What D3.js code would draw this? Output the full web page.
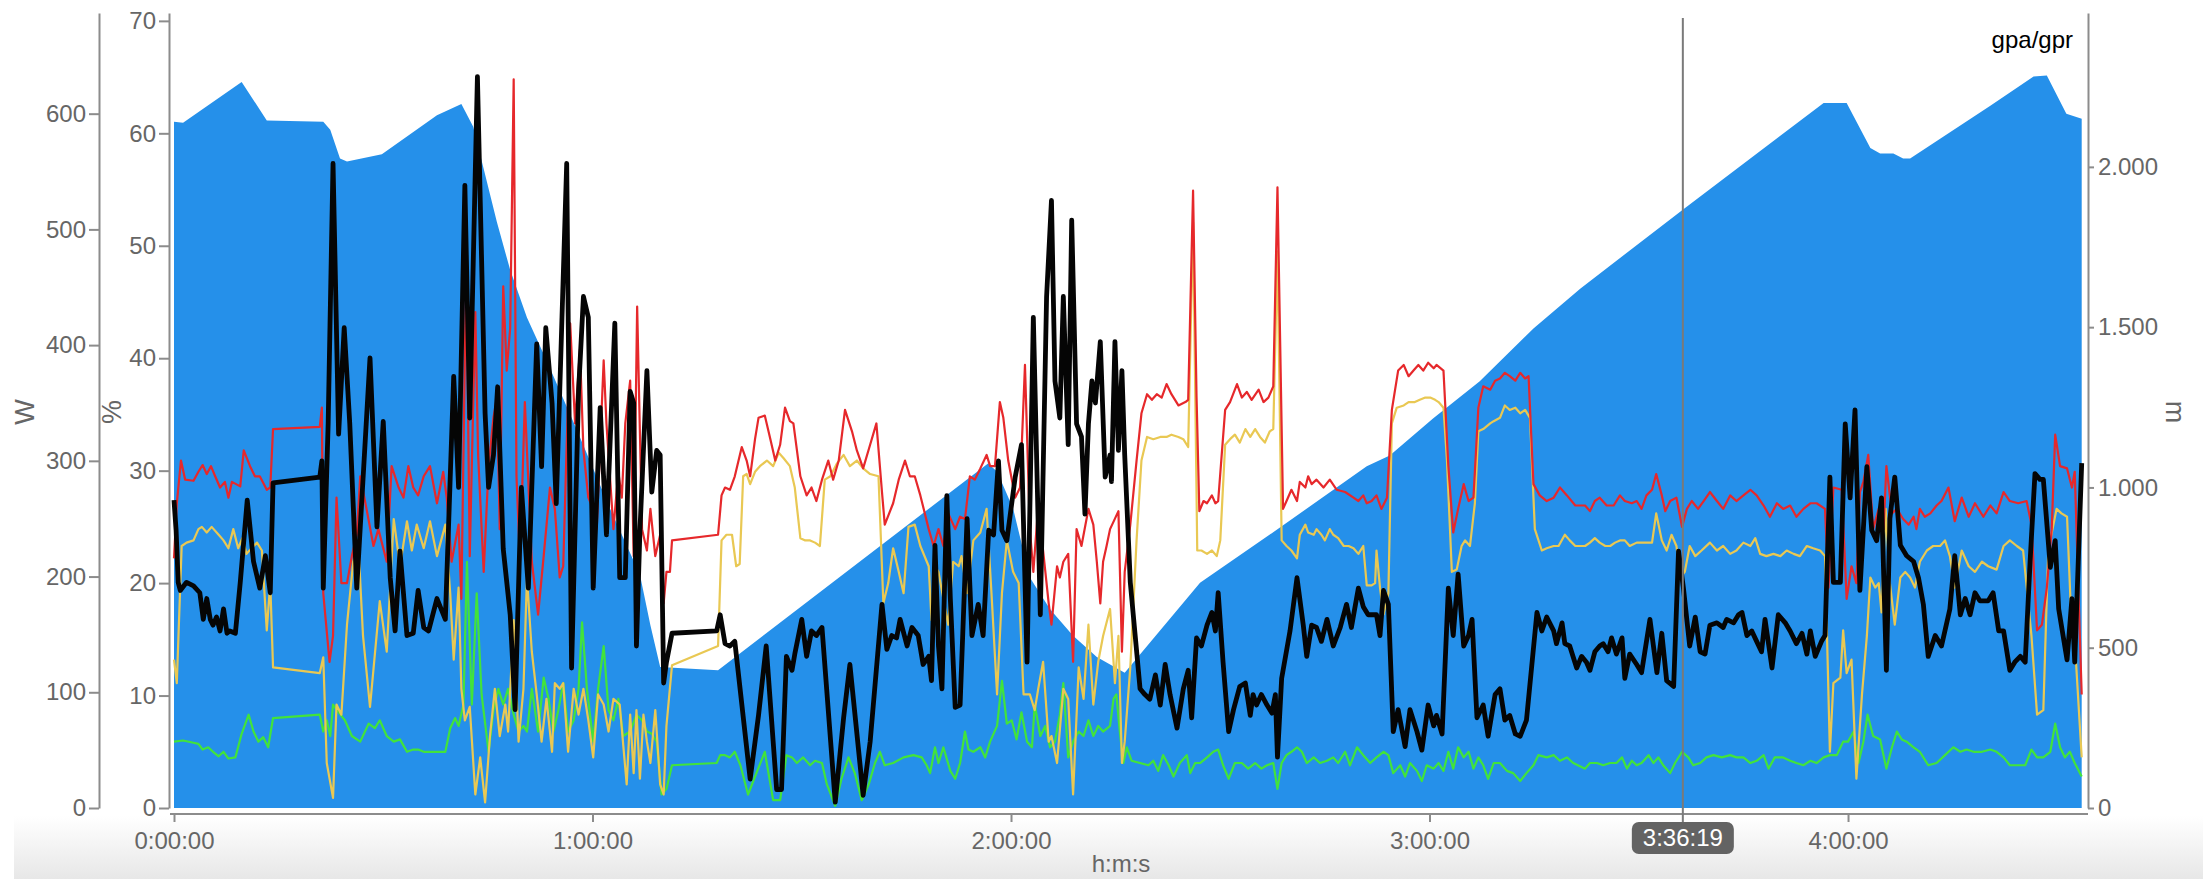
<!DOCTYPE html>
<html>
<head>
<meta charset="utf-8">
<script src="https://cdnjs.cloudflare.com/ajax/libs/d3/7.8.5/d3.min.js"></script>
<style>
  body { margin: 0; background: #fff; }
  svg { display: block; font-family: "Liberation Sans", Arial, Helvetica, sans-serif; }
</style>
</head>
<body>
<svg id="chart" width="2203" height="879"></svg>
<script>
(function() {
  'use strict';

  // ticks (time in minutes)
  var timeTicks = [0, 60, 120, 180, 240];
  var wTicks = [0, 100, 200, 300, 400, 500, 600];
  var pctTicks = [0, 10, 20, 30, 40, 50, 60, 70];
  var mTicks = [0, 500, 1000, 1500, 2000];
  var cursorSeconds = 12979;
  var cornerLabel = "gpa/gpr";
  var axisTitles = { w: "W", pct: "%", m: "m", time: "h:m:s" };

  // [minute, metres]
  var elevation = [[0,2141],[1.3,2138],[9.7,2265],[13.3,2145],[21.4,2141],[22.4,2116],[23.8,2026],[24.8,2017],[29.8,2039],[37.7,2161],[41.2,2196],[42.9,2125],[46.3,1827],[48.2,1678],[50.6,1530],[53.4,1397],[57.7,1182],[62.5,934],[66.8,728],[68.3,570],[69.7,440],[78.0,430],[116.7,1075],[118.0,1050],[120.3,934],[122.7,719],[125.6,620],[128.9,537],[132.3,471],[136.3,422],[147.1,703],[158.1,868],[171.0,1066],[174.3,1100],[180.5,1215],[187.2,1331],[194.9,1496],[201.6,1620],[216.4,1868],[236.5,2199],[239.8,2199],[243.2,2059],[244.6,2042],[246.5,2042],[247.9,2026],[248.9,2026],[260.4,2191],[266.6,2282],[268.5,2285],[271.3,2166],[273.5,2150]];

  // [minute, W]
  var power = [[0.0,266],[0.3,240],[0.6,195],[0.9,188],[1.8,195],[2.8,192],[3.7,186],[4.2,163],[4.7,181],[5.2,163],[5.6,158],[6.1,165],[6.6,153],[7.1,172],[7.6,151],[8.0,153],[8.8,151],[9.5,195],[10.5,266],[11.4,213],[12.3,190],[13.1,218],[13.8,186],[14.2,281],[20.9,286],[21.2,300],[21.4,190],[22.1,332],[22.8,557],[23.6,323],[24.4,415],[25.2,332],[26.2,190],[28.1,389],[29.1,243],[30.0,334],[31.0,199],[31.7,153],[32.4,222],[33.4,149],[34.3,151],[35.0,188],[35.8,156],[36.5,153],[37.7,181],[38.9,163],[40.1,373],[40.8,277],[41.7,538],[42.4,337],[43.5,632],[44.6,341],[45.1,277],[45.8,305],[46.4,364],[47.2,224],[48.2,167],[48.9,85],[49.8,277],[50.8,190],[52.0,401],[52.7,295],[53.3,415],[54.2,350],[54.8,263],[55.3,360],[56.3,557],[57.0,121],[58.0,360],[58.7,442],[59.4,424],[60.1,190],[61.1,346],[62.0,236],[63.2,419],[63.9,199],[64.7,199],
    [65.4,360],[65.9,350],[66.3,140],[66.8,240],[67.8,378],[68.5,273],[69.2,309],[69.7,305],[70.2,108],[70.6,126],[71.4,151],[77.8,153],[78.3,167],[79.0,142],[79.7,140],[80.4,144],[82.6,25],[83.8,80],[84.9,140],[86.4,16],[87.1,16],[87.8,131],[88.6,119],[89.0,133],[90.0,163],[90.7,131],[91.4,153],[92.1,149],[92.9,156],[94.8,5],[96.0,78],[96.9,124],[98.8,11],[99.8,57],[101.5,176],[102.2,137],[102.9,149],[103.6,147],[104.1,163],[105.1,140],[105.8,156],[106.7,149],[107.4,124],[108.2,131],[108.6,110],[109.1,227],[109.6,140],[110.1,103],[110.8,270],[111.3,181],[112.0,87],[112.7,89],[113.7,250],[114.4,149],[115.3,176],[116.0,149],[116.8,240],[117.5,236],[118.2,300],[118.7,240],[119.4,231],[120.6,286],[121.5,314],[122.3,126],[123.2,424],[124.2,167],[125.1,442],[125.8,525],[126.3,369],[127.0,337],[127.5,442],[128.2,314],[128.7,508],[129.4,332],[130.1,321],[130.6,254],[131.1,332],[131.6,369],[132.1,350],[132.8,403],[133.5,286],[134.2,305],
    [134.4,282],[134.9,403],[135.4,309],[135.9,378],[136.3,305],[137.1,195],[137.8,149],[138.5,103],[139.2,98],[139.9,94],[140.7,115],[141.4,89],[142.1,124],[142.8,98],[143.8,69],[144.7,103],[145.4,119],[145.9,78],[146.6,147],[147.3,140],[148.1,158],[148.8,169],[149.3,153],[149.7,186],[150.4,126],[151.2,66],[151.9,85],[152.8,105],[153.6,108],[154.3,80],[154.7,98],[155.2,89],[155.9,98],[156.7,89],[157.4,82],[157.9,98],[158.2,44],[158.8,112],[160.0,153],[161.0,199],[161.9,158],[162.4,131],[163.1,158],[163.8,156],[164.5,144],[165.3,163],[166.2,140],[167.2,156],[168.1,176],[168.8,156],[169.8,190],[170.5,174],[171.2,167],[172.4,167],[172.9,149],[173.4,188],[174.1,176],[174.8,66],[175.5,85],[176.5,53],[177.2,85],[178.2,66],[178.9,50],[179.8,89],[180.6,71],[181.0,80],[181.8,64],[182.7,190],[183.4,149],[184.1,202],[184.9,140],[185.6,149],[186.1,163],[186.8,78],[187.7,89],[188.4,62],[189.4,98],[190.1,103],[190.8,76],[191.5,80],[192.3,64],[193.0,62],[193.9,76],[195.4,169],[196.1,153],[196.8,165],[197.8,153],[198.2,142],[199.0,160],[199.4,142],[200.1,140],[201.1,121],
    [201.8,131],[202.5,126],[203.0,119],[203.7,135],[204.4,140],[204.9,142],[205.6,135],[206.1,147],[206.8,133],[207.6,147],[208.0,112],[208.7,133],[209.7,124],[210.4,117],[211.6,163],[212.6,117],[213.3,151],[214.0,110],[215.0,105],[215.7,222],[216.4,190],[217.3,140],[218.1,165],[218.8,135],[219.5,133],[220.2,158],[221.2,160],[222.1,156],[222.6,163],[223.6,160],[224.3,167],[224.8,169],[225.5,149],[226.2,153],[226.9,144],[227.6,135],[228.1,163],[229.1,121],[230.0,167],[231.0,160],[231.7,153],[232.6,142],[233.4,151],[234.1,133],[234.6,153],[235.3,131],[236.2,144],[236.7,149],[237.4,286],[237.9,195],[238.9,195],[239.6,332],[240.3,268],[241.0,344],[241.7,188],[242.7,295],[243.4,240],[244.1,231],[244.8,268],[245.5,119],[246.0,250],[246.7,286],[247.5,227],[248.4,218],[249.4,213],[250.1,199],[250.8,176],[251.5,131],[252.5,149],[253.4,140],[254.6,172],[255.3,218],[256.1,167],[256.8,181],[257.5,167],[258.2,186],[258.9,179],[260.1,179],[260.8,186],[261.6,153],[262.3,153],[263.2,119],[263.9,126],[264.7,131],[265.4,126],[266.1,213],[266.8,289],[267.5,284],[268.0,284],[269.0,208],[269.7,231],[270.2,172],[271.4,128],[272.1,181],[272.5,126],[273.5,298]];

  // [minute, %]
  var redLine = [[0.0,22.2],[0.4,27.1],[1.0,30.9],[1.6,29.2],[2.8,29.1],[3.5,29.9],[4.1,30.5],[4.7,29.7],[5.3,30.4],[5.9,29.5],[6.6,28.5],[7.3,29.0],[7.8,27.6],[8.3,29.0],[9.5,28.6],[10.0,31.8],[10.9,30.4],[11.6,29.5],[12.3,29.5],[13.3,28.3],[13.8,28.5],[14.2,33.7],[20.9,33.9],[21.2,35.6],[21.4,19.1],[22.3,13.0],[22.8,15.3],[23.3,27.6],[24.0,20.0],[24.8,20.0],[25.5,22.4],[26.2,24.3],[26.7,29.5],[27.6,26.6],[28.6,23.3],[29.3,24.8],[30.5,21.9],[31.2,30.4],[32.2,28.5],[32.9,27.6],[33.6,30.4],[34.3,28.5],[35.0,27.8],[35.8,29.5],[36.7,30.4],[37.7,27.1],[38.6,29.9],[39.1,27.6],[39.8,21.9],[40.8,25.2],[41.2,18.6],[41.9,48.8],[42.4,22.4],[43.2,44.1],[43.6,31.4],[44.4,21.0],[45.1,30.4],[45.8,34.7],[46.3,36.5],[46.7,24.8],[47.2,46.4],[47.7,38.9],[48.2,42.7],[48.7,64.8],[49.1,29.5],[49.6,21.9],[50.3,36.1],[51.3,21.9],[52.2,17.2],[53.0,22.4],[53.9,28.5],[54.6,26.6],[55.3,20.5],[55.8,21.5],[56.8,43.1],[57.5,34.2],[58.2,40.8],[58.7,31.8],[59.4,27.6],[60.1,26.6],[60.6,24.8],[61.6,39.8],[62.0,34.2],[63.0,24.8],[63.7,29.9],[64.2,27.6],[64.7,34.2],
    [65.4,38.0],[65.9,22.4],[66.4,44.6],[67.1,24.8],[67.8,22.9],[68.3,26.6],[69.0,22.4],[69.7,24.3],[70.2,18.2],[70.6,21.0],[71.1,21.0],[71.4,23.8],[78.0,24.3],[78.5,27.8],[79.0,28.5],[79.7,28.3],[80.4,29.5],[81.4,32.1],[82.1,30.9],[82.6,29.5],[83.3,32.8],[83.8,34.7],[84.7,34.9],[85.5,32.8],[86.2,30.9],[86.9,32.3],[87.6,35.6],[88.3,34.4],[88.8,34.2],[89.8,29.5],[90.7,27.8],[91.4,28.5],[92.1,27.3],[92.9,29.2],[93.8,30.9],[94.5,29.2],[95.3,30.9],[96.2,35.4],[97.2,33.5],[97.9,31.8],[98.8,30.2],[99.8,32.3],[100.7,34.2],[101.5,28.1],[101.9,25.2],[103.1,27.1],[103.9,29.2],[104.8,30.9],[105.5,29.5],[106.2,29.5],[107.0,27.8],[108.2,24.8],[108.9,23.3],[109.6,24.8],[110.3,23.3],[111.0,26.2],[112.0,24.8],[112.7,25.9],[113.4,25.7],[114.1,29.5],[114.8,29.2],[115.6,30.2],[116.5,31.4],[117.0,30.4],[117.7,30.4],[118.4,36.1],[118.9,34.7],[119.6,30.9],[120.6,27.6],[121.3,28.5],[122.0,39.4],[122.7,24.8],[123.2,21.0],[123.9,26.9],[124.6,22.9],[125.4,18.2],[125.8,16.3],[126.6,21.5],[127.0,20.5],[127.5,21.9],[128.2,22.6],[128.9,13.0],[129.4,24.8],[130.1,23.3],[131.1,26.6],[131.8,25.2],[132.3,21.9],[132.8,18.2],[133.2,21.9],[133.7,23.3],[134.2,24.8],
    [135.4,26.4],[135.9,13.9],[136.3,21.0],[137.1,25.2],[138.0,30.9],[138.7,35.1],[139.5,36.8],[140.2,36.3],[140.9,36.8],[141.6,36.5],[142.3,37.7],[143.0,36.8],[144.0,35.8],[145.0,36.1],[145.4,36.3],[146.1,54.9],[146.6,36.5],[147.0,26.4],[147.6,27.3],[148.1,27.1],[148.8,27.8],[149.3,27.1],[149.7,27.3],[150.7,35.4],[151.4,36.1],[152.4,37.7],[153.1,36.5],[153.8,37.0],[154.5,36.3],[155.5,37.2],[156.2,36.1],[156.9,36.5],[157.6,37.5],[158.2,55.2],[159.0,26.6],[159.5,27.3],[160.2,28.3],[161.0,27.3],[161.4,29.0],[162.2,28.5],[162.6,29.5],[163.1,28.8],[163.8,29.2],[164.8,28.5],[165.7,29.2],[166.7,28.3],[167.9,28.1],[169.1,27.6],[169.8,27.3],[170.5,27.8],[171.0,27.1],[171.7,27.3],[172.4,27.8],[173.1,26.6],[173.9,27.6],[174.6,35.4],[175.5,38.9],[176.3,39.4],[177.0,38.4],[177.7,38.9],[178.4,39.4],[179.1,38.9],[179.8,39.6],[180.6,39.1],[181.0,39.4],[182.0,38.9],[182.7,30.4],[183.4,24.5],[184.1,26.6],[184.9,28.8],[185.6,27.3],[186.3,27.6],[187.0,35.6],[187.7,37.5],[188.7,37.2],[189.4,38.0],[190.1,38.2],[190.8,38.7],[191.5,38.4],[192.3,38.0],[193.0,38.7],[193.7,38.2],[194.2,38.4],[194.9,28.8],[195.8,27.8],[196.8,27.3],[197.8,27.6],[198.7,28.5],[199.7,27.8],[200.9,26.9],
    [202.3,26.9],[203.0,26.4],[203.7,27.3],[204.4,27.6],[205.4,26.9],[206.4,26.9],[207.3,27.8],[208.0,27.3],[209.0,27.1],[209.7,27.3],[210.4,26.6],[211.1,27.8],[211.9,28.3],[212.5,29.7],[213.3,27.8],[213.8,26.4],[214.5,27.3],[215.4,27.6],[216.2,25.0],[216.9,26.6],[217.6,27.3],[218.5,26.6],[219.3,27.3],[220.2,28.1],[221.2,27.3],[222.1,26.6],[223.1,27.8],[224.0,27.3],[225.0,27.8],[226.0,28.3],[226.9,27.8],[227.9,26.9],[228.8,25.9],[229.8,27.1],[230.7,26.6],[231.7,26.9],[232.6,25.9],[233.6,26.6],[234.6,27.1],[235.5,27.1],[236.7,26.6],[237.2,19.6],[237.9,28.5],[239.1,28.3],[239.8,18.6],[240.5,21.5],[241.2,20.0],[241.7,28.1],[242.2,29.0],[242.9,31.4],[243.6,24.8],[244.4,26.6],[245.1,24.8],[245.5,30.4],[246.3,26.2],[247.0,26.6],[247.9,25.7],[248.7,25.2],[249.4,25.9],[249.8,24.8],[250.3,26.6],[251.0,25.9],[251.8,26.2],[252.7,26.9],[253.4,27.3],[254.4,28.5],[255.3,25.5],[256.3,27.6],[257.3,25.9],[258.2,27.1],[259.4,25.9],[260.4,26.9],[261.3,26.2],[262.3,28.1],[263.2,27.3],[264.4,27.1],[265.6,27.3],[266.3,25.2],[267.1,15.8],[267.8,16.3],[268.5,19.6],[269.2,24.8],[269.7,33.2],[270.4,30.4],[271.4,30.2],[272.1,28.5],[272.5,29.9],[273.5,10.1]];

  var yellowLine = [[0.0,13.2],[0.4,11.1],[1.1,23.3],[1.8,23.6],[2.8,23.8],[3.5,24.8],[4.0,25.0],[4.7,24.5],[5.4,25.0],[6.4,24.3],[7.1,23.8],[7.8,23.1],[8.5,24.8],[9.2,23.1],[9.8,24.0],[10.4,22.6],[11.1,23.1],[11.9,23.6],[12.6,22.9],[13.3,15.8],[13.8,20.0],[14.2,12.5],[20.9,12.0],[21.4,13.4],[21.9,4.0],[22.8,0.9],[23.3,9.2],[24.0,8.3],[24.8,16.3],[25.7,21.9],[26.4,23.8],[27.1,15.3],[28.1,9.0],[29.5,18.4],[30.5,13.9],[31.5,25.7],[32.4,21.5],[33.4,25.5],[34.1,22.9],[34.8,25.2],[35.8,23.1],[36.7,25.5],[37.7,22.4],[38.9,25.2],[39.6,19.1],[40.1,13.2],[40.8,19.6],[41.2,10.6],[41.7,7.8],[42.4,9.0],[43.2,1.2],[43.9,4.5],[44.6,0.5],[45.3,6.4],[46.0,10.6],[46.7,6.4],[47.5,9.2],[47.9,6.8],[48.7,16.7],[49.4,5.9],[50.1,10.6],[50.6,20.5],[51.3,13.9],[52.0,10.1],[52.7,5.9],[53.4,9.7],[54.2,5.0],[54.6,11.1],[55.3,10.6],[55.8,11.1],[56.5,5.0],[57.3,10.6],[58.0,8.3],[58.7,10.6],[59.4,7.8],[60.1,4.5],[60.8,10.1],[61.6,9.2],[62.3,6.8],[63.0,9.7],[63.9,9.2],[64.9,2.1],
    [65.4,8.3],[65.9,3.1],[66.3,8.7],[66.8,2.6],[67.3,8.3],[67.8,5.9],[68.3,4.0],[69.0,8.7],[69.7,2.1],[70.2,1.2],[70.6,7.3],[71.4,12.7],[78.0,14.4],[78.5,23.8],[79.2,24.3],[80.0,24.3],[80.6,21.5],[81.1,21.7],[81.6,29.5],[82.1,29.7],[82.6,28.8],[83.3,29.9],[84.0,30.4],[85.0,30.9],[85.9,30.4],[86.7,31.6],[87.4,31.1],[88.3,30.4],[89.0,28.5],[89.8,24.0],[90.5,23.8],[91.2,23.8],[91.9,23.6],[92.6,23.3],[93.3,29.2],[94.1,29.5],[95.0,30.6],[96.0,31.4],[96.9,30.4],[97.9,30.9],[98.8,30.2],[99.8,29.7],[101.0,29.5],[101.7,18.2],[102.4,20.0],[103.1,23.1],[103.9,21.0],[104.6,19.1],[105.3,25.0],[106.2,25.2],[107.0,23.3],[108.2,21.5],[108.6,16.7],[109.1,21.5],[109.6,21.0],[110.3,18.6],[111.0,16.3],[111.7,21.9],[112.5,21.5],[112.9,22.4],[113.7,19.1],[114.6,23.8],[115.6,24.5],[116.5,26.6],[117.2,19.1],[118.0,10.1],[118.7,19.1],[119.4,23.8],[120.3,21.0],[121.1,20.0],[121.8,10.1],[122.7,10.1],[123.4,8.7],[123.9,10.6],[124.6,13.0],[125.4,5.9],[125.8,6.4],[126.6,4.0],[127.5,10.6],[128.2,9.7],[128.9,1.2],[129.7,12.5],[130.4,9.7],[131.1,16.3],[131.8,9.2],[132.5,13.0],[133.2,15.3],[134.2,17.7],
    [134.9,11.1],[135.4,15.3],[135.9,4.0],[136.3,5.9],[137.1,12.5],[138.0,23.8],[138.7,30.9],[139.5,33.0],[140.4,32.8],[141.4,33.0],[142.3,33.0],[143.0,33.2],[144.0,33.0],[144.7,32.8],[145.4,32.1],[146.1,52.1],[146.7,22.9],[147.3,22.9],[148.1,22.6],[148.8,22.9],[149.5,22.4],[150.0,23.8],[150.7,32.3],[151.4,32.8],[152.1,33.2],[152.8,32.5],[153.6,33.7],[154.3,33.0],[155.0,33.7],[155.7,33.0],[156.4,32.5],[157.1,33.5],[157.6,33.7],[158.2,49.5],[158.8,23.8],[159.5,23.3],[160.2,22.9],[161.0,22.2],[161.4,24.3],[162.2,25.2],[162.6,24.5],[163.4,24.3],[163.8,24.8],[164.5,24.3],[165.0,23.8],[165.7,24.8],[166.2,24.3],[166.9,24.0],[167.7,23.3],[168.4,23.3],[169.1,23.1],[169.8,22.6],[170.5,23.3],[171.0,19.8],[171.7,19.8],[172.2,20.0],[172.4,22.9],[172.9,19.6],[173.4,17.2],[174.1,19.1],[174.6,34.2],[175.3,35.6],[176.3,35.8],[177.0,36.1],[177.9,36.1],[178.6,36.3],[179.4,36.5],[180.1,36.5],[180.8,36.3],[181.3,36.1],[182.0,35.6],[182.5,30.9],[183.2,21.0],[183.9,21.2],[184.6,23.3],[185.1,23.8],[185.8,23.3],[186.5,27.1],[187.0,33.5],[187.7,33.7],[188.7,34.2],[189.2,34.4],[190.1,34.7],[190.8,35.8],[191.5,35.4],[192.3,35.6],[193.0,35.1],[193.7,35.4],[194.4,34.7],[195.1,24.8],[196.1,22.9],[196.8,23.1],[197.8,23.3],[198.5,23.3],[199.4,24.3],[200.1,23.8],[200.9,23.3],
    [202.3,23.3],[203.0,23.6],[203.7,24.0],[204.4,23.6],[205.2,23.3],[205.9,23.3],[206.6,23.6],[207.3,23.8],[208.0,23.8],[208.7,23.3],[209.7,23.6],[210.9,23.6],[211.9,23.6],[212.5,26.2],[213.3,23.8],[214.0,22.9],[214.7,24.3],[215.4,23.3],[215.9,20.5],[216.6,21.0],[217.3,23.3],[218.1,22.4],[219.0,22.9],[220.2,23.6],[221.2,22.9],[222.1,23.3],[223.1,22.6],[224.0,22.9],[225.0,23.6],[226.0,23.3],[226.7,24.0],[227.4,22.6],[228.3,22.4],[229.3,22.6],[230.3,22.4],[231.2,22.9],[232.2,22.6],[233.1,22.4],[234.1,23.3],[235.0,23.1],[236.0,22.9],[236.7,22.4],[237.4,5.0],[237.9,11.1],[238.9,11.6],[239.3,15.8],[239.8,12.0],[240.5,13.2],[241.2,2.6],[242.0,10.1],[242.7,15.3],[243.2,20.5],[243.9,19.6],[244.4,20.0],[244.8,17.4],[245.4,26.6],[246.0,20.0],[246.7,16.3],[247.5,20.5],[248.2,21.0],[248.9,20.5],[249.6,19.6],[250.3,21.9],[251.3,22.9],[252.2,23.3],[253.2,23.3],[253.9,23.8],[254.6,22.4],[255.3,19.6],[256.3,22.9],[257.3,21.5],[258.2,21.0],[259.2,21.9],[260.1,21.5],[261.3,21.2],[262.3,23.3],[263.2,23.8],[264.2,23.3],[265.1,22.9],[266.3,15.3],[267.1,8.3],[268.0,8.7],[268.7,22.9],[269.9,26.6],[270.6,26.2],[271.4,25.9],[272.1,15.3],[272.5,14.9],[273.5,4.5]];

  var greenLine = [[0.0,5.9],[1.3,6.0],[2.8,5.8],[3.5,5.7],[4.1,5.2],[4.9,5.4],[5.6,5.0],[6.4,4.6],[7.1,5.0],[7.8,4.4],[8.8,4.5],[9.7,6.6],[10.7,8.3],[11.4,6.8],[12.1,5.9],[12.8,6.3],[13.5,5.4],[14.2,8.0],[20.9,8.3],[21.4,6.8],[21.9,7.8],[22.4,6.4],[22.8,9.2],[23.6,8.5],[24.5,7.8],[25.5,6.4],[26.7,5.9],[27.9,7.5],[28.8,7.1],[29.5,7.8],[30.5,6.4],[31.5,5.9],[32.4,6.1],[33.4,5.0],[34.3,5.2],[35.0,5.2],[35.8,5.0],[37.2,5.0],[38.9,5.0],[39.6,7.1],[40.3,8.0],[40.8,7.3],[41.5,9.2],[42.0,21.9],[42.7,9.2],[43.4,19.1],[44.1,10.1],[45.1,5.0],[45.8,8.7],[46.5,10.6],[47.2,9.2],[47.9,10.6],[48.7,8.3],[49.4,6.8],[50.1,7.3],[50.6,6.8],[51.3,10.6],[52.2,6.8],[53.0,11.6],[53.7,9.7],[54.4,6.8],[55.1,8.7],[55.8,11.1],[56.5,6.8],[57.3,7.8],[58.0,10.6],[58.5,16.5],[59.2,10.6],[60.1,5.9],[60.8,10.6],[61.6,14.4],[62.3,8.7],[63.0,7.8],[63.7,9.7],[64.4,6.4],
    [65.4,6.8],[66.3,8.3],[67.1,7.8],[67.8,6.8],[68.5,6.6],[69.2,5.9],[69.9,1.2],[70.6,1.7],[71.4,3.8],[77.8,4.0],[78.3,4.7],[79.0,4.7],[79.7,4.5],[80.4,5.0],[81.2,3.8],[82.3,1.2],[83.5,3.1],[84.7,5.0],[85.9,0.7],[86.9,0.7],[87.8,4.7],[88.6,4.5],[89.3,4.0],[90.2,4.5],[91.2,3.8],[91.9,4.2],[92.9,4.0],[93.6,2.1],[94.8,0.2],[95.7,2.6],[96.7,4.5],[97.6,3.1],[98.6,0.7],[99.6,2.1],[100.5,4.0],[101.2,5.0],[101.9,3.8],[103.1,4.0],[104.6,4.5],[106.0,4.7],[107.2,4.5],[107.9,3.8],[108.4,3.1],[109.1,5.4],[109.6,4.0],[110.3,5.4],[111.3,3.3],[112.0,2.6],[112.7,4.0],[113.4,6.8],[113.9,5.2],[114.6,5.0],[115.6,5.4],[116.3,4.5],[117.0,5.9],[118.0,7.3],[118.7,11.3],[119.4,7.5],[120.1,7.8],[120.8,6.1],[121.5,8.5],[122.3,5.9],[123.0,5.4],[123.4,9.2],[124.2,6.4],[124.9,7.3],[125.6,5.4],[126.3,5.9],[127.0,8.3],[127.5,11.1],[128.2,4.5],[128.9,5.9],[129.7,6.8],[130.4,6.4],[131.1,7.8],[131.8,6.4],[132.5,7.3],[133.2,6.8],[134.2,7.3],
    [134.7,9.7],[135.1,10.1],[135.6,6.8],[136.1,4.0],[136.6,5.4],[137.3,4.2],[138.5,4.0],[139.7,3.8],[140.4,4.2],[141.1,3.3],[141.8,4.7],[142.6,3.8],[143.3,2.8],[144.2,4.0],[145.2,4.7],[145.7,3.1],[146.4,4.0],[147.1,4.0],[148.1,4.5],[149.0,5.0],[149.7,5.2],[150.4,3.8],[151.2,2.6],[152.1,4.0],[153.1,4.0],[154.0,3.5],[155.0,4.0],[155.9,3.5],[156.7,3.8],[157.6,4.0],[158.2,1.7],[158.8,4.0],[159.5,4.7],[160.2,5.0],[161.0,5.4],[161.7,5.0],[162.4,4.0],[163.4,4.5],[164.3,4.0],[165.3,4.2],[166.2,4.5],[166.9,4.0],[167.9,5.0],[168.6,3.8],[169.6,5.4],[170.5,4.7],[171.5,4.0],[172.4,4.5],[173.4,5.0],[174.1,4.7],[174.8,3.1],[175.8,3.8],[176.5,2.8],[177.2,4.0],[178.2,3.3],[178.9,2.4],[179.6,3.8],[180.6,3.5],[181.3,4.0],[182.0,3.3],[182.7,5.0],[183.4,3.5],[184.1,5.4],[184.9,4.5],[185.6,5.0],[186.3,3.5],[187.0,4.5],[187.7,3.8],[188.4,2.6],[189.2,4.0],[190.1,4.0],[191.1,3.3],[192.0,3.1],[193.0,2.4],[193.9,3.1],[194.9,3.8],[195.6,4.7],[196.8,4.5],[197.8,4.7],[198.7,4.2],[199.7,4.5],[200.6,4.0],
    [202.3,3.5],[203.0,4.0],[204.0,4.0],[204.9,3.8],[205.9,4.0],[206.8,4.0],[207.6,4.5],[208.3,3.5],[209.0,4.2],[209.7,3.8],[210.4,4.0],[211.4,4.7],[212.1,4.0],[212.8,4.5],[213.5,3.8],[214.5,3.1],[215.2,4.0],[216.2,5.0],[217.1,4.5],[217.8,3.8],[218.8,4.0],[219.7,4.5],[220.7,4.7],[221.9,4.5],[223.1,4.7],[224.0,4.5],[225.0,4.5],[226.0,4.0],[226.9,4.2],[227.9,4.7],[228.6,3.5],[229.5,4.5],[230.7,4.5],[231.7,4.2],[232.6,4.0],[233.6,3.8],[234.6,4.2],[235.5,4.0],[236.5,4.5],[237.4,4.7],[238.4,4.7],[239.3,5.9],[240.0,5.9],[240.8,6.8],[241.5,4.0],[242.2,5.9],[242.8,8.3],[243.6,6.4],[244.6,6.1],[245.5,3.5],[246.3,5.4],[247.0,6.8],[247.7,6.1],[248.4,5.9],[249.4,5.4],[250.3,5.0],[251.5,3.8],[252.7,4.0],[253.9,4.7],[255.1,5.4],[256.1,5.0],[257.0,5.2],[258.0,5.0],[259.2,5.0],[260.4,5.2],[261.3,5.0],[262.3,4.5],[263.2,3.8],[264.4,3.8],[265.4,3.8],[266.3,5.2],[267.1,4.5],[268.0,4.5],[269.0,5.0],[269.7,7.5],[270.4,5.4],[271.1,4.5],[271.8,5.0],[272.5,4.0],[273.5,2.8]];

  var svg = d3.select("#chart");
  var axisColor = "#8c8c8c", textColor = "#666", fontSize = 24;

  var x = d3.scaleLinear().domain([0, 273.5]).range([174, 2081.7]);
  var yW = d3.scaleLinear().domain([0, 687]).range([808, 13]);
  var yPct = d3.scaleLinear().domain([0, 70.7]).range([808, 13]);
  var yM = d3.scaleLinear().domain([0, 2480]).range([808, 13]);

  function hms(min) {
    var s = Math.round(min * 60);
    var h = Math.floor(s / 3600), m = Math.floor((s % 3600) / 60), sec = s % 60;
    return h + ":" + d3.format("02")(m) + ":" + d3.format("02")(sec);
  }
  var deFormat = d3.formatLocale({ decimal: ",", thousands: ".", grouping: [3], currency: ["", "€"] }).format(",");

  // bottom grey band
  var defs = svg.append("defs");
  var grad = defs.append("linearGradient").attr("id", "band").attr("x1", 0).attr("y1", 0).attr("x2", 0).attr("y2", 1);
  grad.append("stop").attr("offset", "0%").attr("stop-color", "#ffffff");
  grad.append("stop").attr("offset", "100%").attr("stop-color", "#e7e7e7");
  svg.append("rect")
    .attr("x", 14).attr("y", 816)
    .attr("width", 2203 - 14).attr("height", 879 - 816)
    .attr("fill", "url(#band)");

  // elevation area
  svg.append("path")
    .datum(elevation)
    .attr("fill", "#2590ea")
    .attr("d", d3.area()
      .x(function(d) { return x(d[0]); })
      .y0(yM(0))
      .y1(function(d) { return yM(d[1]); }));

  function drawLine(data, scale, color, width) {
    svg.append("path")
      .datum(data)
      .attr("fill", "none")
      .attr("stroke", color)
      .attr("stroke-width", width)
      .attr("stroke-linejoin", "round")
      .attr("d", d3.line()
        .x(function(d) { return x(d[0]); })
        .y(function(d) { return scale(d[1]); }));
  }

  drawLine(greenLine, yPct, "#42e33b", 2.2);
  drawLine(yellowLine, yPct, "#e9c853", 2.2);
  drawLine(redLine, yPct, "#e6282b", 2.2);
  drawLine(power, yW, "#050505", 4.8);

  function styleAxis(g) {
    g.attr("font-family", null).attr("font-size", fontSize);
    g.select(".domain").attr("stroke", axisColor).attr("stroke-width", 2);
    g.selectAll(".tick line").attr("stroke", axisColor).attr("stroke-width", 2);
    g.selectAll(".tick text").attr("fill", textColor);
  }

  svg.append("g")
    .attr("transform", "translate(99,0)")
    .call(d3.axisLeft(yW).tickValues(wTicks).tickSize(10).tickSizeOuter(0).tickPadding(3))
    .call(styleAxis);

  svg.append("g")
    .attr("transform", "translate(169,0)")
    .call(d3.axisLeft(yPct).tickValues(pctTicks).tickSize(10).tickSizeOuter(0).tickPadding(3))
    .call(styleAxis);

  svg.append("g")
    .attr("transform", "translate(2088,0)")
    .call(d3.axisRight(yM).tickValues(mTicks).tickFormat(deFormat).tickSize(6).tickSizeOuter(0).tickPadding(4))
    .call(styleAxis);

  var xAxis = svg.append("g")
    .attr("transform", "translate(0,814)")
    .call(d3.axisBottom(x).tickValues(timeTicks).tickFormat(hms).tickSize(8).tickSizeOuter(0).tickPadding(10))
    .call(styleAxis);
  xAxis.select(".domain").attr("d", "M170,0H2088");

  // axis titles
  function title(txt, tx, ty, rot) {
    svg.append("text")
      .attr("transform", "translate(" + tx + "," + ty + ") rotate(" + rot + ")")
      .attr("text-anchor", "middle")
      .attr("dominant-baseline", "central")
      .attr("font-size", 27)
      .attr("fill", textColor)
      .text(txt);
  }
  title(axisTitles.w, 25, 412, -90);
  title(axisTitles.pct, 112, 412, -90);
  title(axisTitles.m, 2175, 412, 90);

  svg.append("text")
    .attr("x", 1121).attr("y", 872)
    .attr("text-anchor", "middle")
    .attr("font-size", 24)
    .attr("fill", textColor)
    .text(axisTitles.time);

  svg.append("text")
    .attr("x", 2073).attr("y", 48)
    .attr("text-anchor", "end")
    .attr("font-size", fontSize)
    .attr("fill", "#000")
    .text(cornerLabel);

  // cursor
  var cx = x(cursorSeconds / 60);
  svg.append("line")
    .attr("x1", cx).attr("x2", cx)
    .attr("y1", 18).attr("y2", 824)
    .attr("stroke", "#7a7a7a")
    .attr("stroke-width", 2);

  svg.append("rect")
    .attr("x", cx - 51).attr("y", 822)
    .attr("width", 102).attr("height", 32)
    .attr("rx", 7)
    .attr("fill", "#636363");

  svg.append("text")
    .attr("x", cx).attr("y", 846)
    .attr("text-anchor", "middle")
    .attr("font-size", fontSize)
    .attr("fill", "#fff")
    .text(hms(cursorSeconds / 60));
})();
</script>
</body>
</html>
